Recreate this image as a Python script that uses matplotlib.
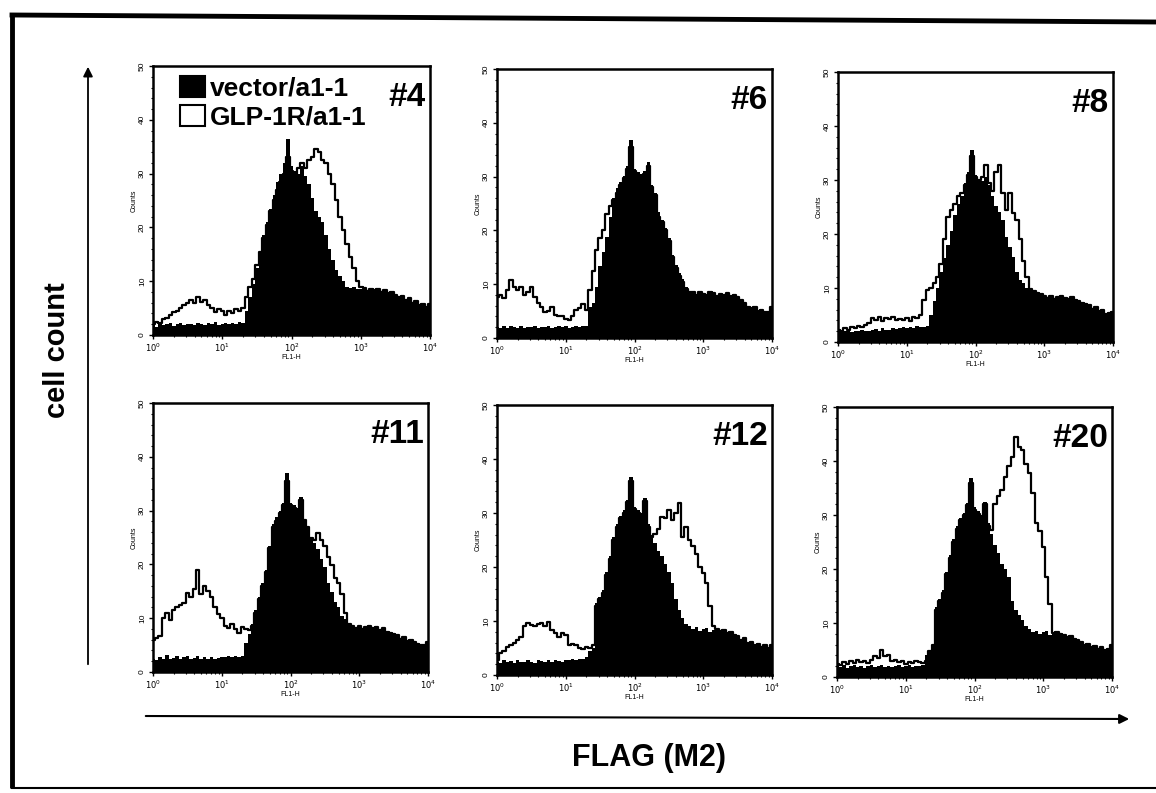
import numpy as np
import matplotlib.pyplot as plt
from matplotlib.patches import Patch
from matplotlib.ticker import MultipleLocator, LogLocator, NullFormatter

plt.rcParams['font.family'] = ['Liberation Sans', 'DejaVu Sans']

W, H = 1156, 793

# FL1-H channels, one every 0.05 decade from 10^0 to 10^4
log_fl = np.arange(81) * 0.05
fl1 = 10 ** log_fl

panel_names = ['#4', '#6', '#8', '#11', '#12', '#20']
legend_labels = ['vector/a1-1', 'GLP-1R/a1-1']
y_ticks = [0, 10, 20, 30, 40, 50]
x_ticks = [1, 10, 100, 1000, 10000]
x_tick_labels = [r'$10^{0}$', r'$10^{1}$', r'$10^{2}$', r'$10^{3}$', r'$10^{4}$']

# counts, vector/a1-1 (filled) and GLP-1R/a1-1 (open)
vec_4 = [2.0, 1.5, 2.2, 1.8, 2.0, 2.3, 1.7, 2.0, 2.2, 1.8,
         2.0, 2.1, 1.9, 2.3, 2.0, 1.8, 2.2, 2.0, 2.4, 1.9,
         2.1, 2.3, 2.0, 2.2, 2.0, 2.5, 2.2, 4.5, 7.0, 9.5,
         12.5, 15.5, 18.5, 21.0, 23.5, 26.0, 28.5, 30.0, 32.0, 36.5,
         31.5, 30.5, 30.0, 31.5, 29.5, 28.0, 25.5, 23.0, 22.0, 21.0,
         18.5, 16.0, 14.0, 12.0, 11.0, 10.0, 9.0, 8.8, 9.0, 8.5,
         8.5, 8.7, 8.2, 8.5, 8.3, 8.6, 8.0, 8.4, 7.8, 8.0,
         7.5, 7.0, 7.2, 6.5, 6.8, 6.0, 6.3, 5.5, 5.8, 5.2, 5.8]
glp_4 = [2.0, 2.5, 2.2, 3.0, 3.2, 3.8, 4.2, 4.5, 5.0, 5.5,
         6.0, 6.5, 6.0, 7.0, 6.2, 6.5, 5.5, 5.0, 4.2, 4.8,
         4.5, 3.8, 4.5, 4.0, 4.8, 4.5, 5.0, 7.0, 9.0, 10.5,
         13.0, 15.5, 18.0, 20.5, 23.0, 25.0, 27.0, 28.5, 30.0, 33.0,
         30.5, 30.0, 31.0, 32.0, 31.0, 32.5, 33.0, 34.5, 34.0, 32.5,
         32.0, 30.0, 28.0, 25.0, 22.0, 19.5, 17.0, 14.5, 12.5, 10.0,
         9.0, 8.7, 8.2, 8.5, 8.3, 8.6, 8.0, 8.4, 7.8, 8.0,
         7.5, 7.0, 7.2, 6.5, 6.8, 6.0, 6.3, 5.5, 5.8, 5.2, 5.8]

vec_6 = [2.0, 1.8, 2.3, 1.9, 2.2, 2.0, 1.8, 2.2, 1.9, 2.1,
         2.0, 2.3, 1.8, 2.1, 2.0, 2.2, 1.9, 2.0, 2.3, 2.0,
         2.2, 1.9, 2.1, 2.3, 2.0, 2.2, 2.3, 5.8, 6.5, 9.5,
         13.3, 16.0, 18.8, 22.5, 26.0, 27.8, 29.0, 30.2, 32.0, 36.8,
         31.5, 30.8, 30.5, 31.0, 32.8, 28.5, 27.0, 23.5, 22.0, 20.5,
         18.5, 15.5, 13.5, 12.0, 11.0, 9.5, 8.8, 8.5, 8.0, 8.6,
         8.2, 8.0, 8.5, 8.3, 7.8, 8.2, 8.0, 8.4, 7.8, 8.0,
         7.6, 7.0, 6.5, 5.8, 5.5, 5.8, 5.0, 5.2, 4.8, 4.8, 5.8]
glp_6 = [7.7, 8.0, 7.5, 9.0, 10.8, 9.5, 9.0, 9.5, 8.0, 8.5,
         9.5, 7.7, 6.5, 5.8, 4.8, 5.0, 5.8, 4.2, 4.0, 4.0,
         3.5, 3.3, 4.0, 5.2, 5.5, 6.4, 5.2, 8.9, 12.5, 16.4,
         18.5, 20.0, 23.0, 24.5, 25.6, 27.0, 28.5, 29.8, 31.5, 35.5,
         31.0, 30.3, 30.0, 30.5, 32.0, 28.0, 26.5, 22.5, 21.5, 20.0,
         18.0, 15.0, 13.0, 11.5, 10.5, 9.2, 8.6, 8.5, 8.0, 8.6,
         8.2, 8.0, 8.5, 8.3, 7.8, 8.2, 8.0, 8.4, 7.8, 8.0,
         7.6, 7.0, 6.5, 5.8, 5.5, 5.8, 5.0, 5.2, 4.8, 4.8, 5.8]

vec_8 = [2.0, 1.8, 2.0, 2.2, 1.9, 2.1, 2.0, 2.3, 2.1, 2.0,
         2.2, 2.4, 2.1, 2.5, 2.3, 2.2, 2.6, 2.4, 2.5, 2.8,
         2.5, 2.8, 2.6, 3.0, 2.7, 2.8, 3.0, 5.0, 7.5, 10.0,
         13.0, 15.5, 18.0, 20.5, 23.5, 25.5, 27.0, 29.5, 31.5, 35.6,
         31.0, 30.2, 29.8, 30.6, 29.0, 27.0, 25.2, 24.0, 22.5, 19.5,
         17.5, 15.8, 13.0, 11.5, 10.9, 10.0, 9.6, 9.5, 9.0, 8.8,
         8.5, 8.2, 8.6, 8.0, 8.3, 8.5, 8.2, 8.0, 8.4, 7.8,
         7.5, 7.2, 7.0, 6.8, 6.2, 6.5, 5.8, 6.0, 5.2, 5.3, 5.5]
glp_8 = [2.2, 2.0, 2.5, 2.3, 2.8, 2.5, 3.0, 2.8, 3.2, 3.5,
         4.5, 4.0, 4.7, 3.8, 4.5, 4.2, 4.7, 4.0, 4.2, 4.0,
         4.5, 3.8, 4.7, 4.5, 5.0, 7.8, 9.6, 10.0, 11.0, 12.0,
         14.5, 19.0, 23.2, 24.5, 25.5, 27.0, 27.5, 29.0, 31.0, 34.5,
         30.5, 30.0, 30.5, 32.8, 29.5, 28.0, 31.5, 32.8, 27.5, 24.4,
         27.5, 23.8, 22.5, 19.0, 15.0, 12.0, 9.8, 9.5, 9.0, 8.8,
         8.5, 8.2, 8.6, 8.0, 8.3, 8.5, 8.2, 8.0, 8.4, 7.8,
         7.5, 7.2, 7.0, 6.8, 6.2, 6.5, 5.8, 6.0, 5.2, 5.3, 5.5]

vec_11 = [2.5, 2.3, 2.8, 2.4, 3.2, 2.5, 2.6, 3.0, 2.4, 2.7,
          2.9, 2.4, 2.6, 3.0, 2.5, 2.7, 2.4, 2.8, 2.5, 2.6,
          2.8, 2.7, 2.9, 2.8, 3.0, 2.8, 3.0, 5.3, 7.0, 9.0,
          11.5, 14.0, 16.5, 19.0, 23.5, 27.6, 28.8, 30.0, 31.5, 36.9,
          31.4, 31.0, 30.5, 32.6, 28.5, 27.2, 25.0, 24.0, 22.8, 21.0,
          19.5, 16.5, 14.8, 13.0, 12.0, 10.5, 9.8, 9.0, 8.6, 8.2,
          8.5, 8.0, 8.4, 8.6, 8.1, 8.3, 7.8, 8.2, 7.5, 7.2,
          7.0, 6.8, 6.2, 6.5, 5.8, 6.0, 5.5, 5.2, 5.0, 5.0, 5.5]
glp_11 = [6.0, 6.3, 6.6, 10.0, 10.9, 9.7, 11.5, 12.1, 12.5, 12.8,
          14.6, 14.0, 15.5, 19.0, 14.5, 15.9, 15.0, 14.0, 12.1, 10.8,
          10.0, 8.6, 8.2, 9.0, 8.0, 7.2, 8.4, 8.0, 7.8, 8.5,
          11.0, 13.5, 16.0, 18.5, 23.0, 27.0, 28.0, 29.5, 31.0, 35.5,
          31.0, 30.5, 30.0, 32.0, 28.2, 27.0, 25.0, 24.5, 25.8, 24.5,
          23.5, 21.4, 19.8, 17.5, 16.5, 14.5, 11.0, 9.0, 8.6, 8.2,
          8.5, 8.0, 8.4, 8.6, 8.1, 8.3, 7.8, 8.2, 7.5, 7.2,
          7.0, 6.8, 6.2, 6.5, 5.8, 6.0, 5.5, 5.2, 5.0, 5.0, 5.5]

vec_12 = [2.5, 2.2, 2.8, 2.4, 2.6, 2.3, 2.8, 2.5, 2.4, 2.7,
          2.5, 2.3, 2.8, 2.6, 2.4, 2.7, 2.5, 2.8, 2.6, 2.5,
          2.8, 2.7, 3.0, 2.8, 2.9, 3.0, 3.4, 4.5, 5.0, 13.3,
          14.5, 15.7, 19.0, 22.0, 25.5, 28.0, 29.5, 30.6, 32.5, 36.7,
          31.2, 30.5, 30.0, 32.7, 28.0, 26.0, 24.5, 23.0, 22.0, 20.5,
          19.0, 17.0, 14.0, 12.0, 10.5, 9.5, 9.0, 8.5, 8.8, 8.2,
          8.5, 8.7, 8.0, 8.4, 8.6, 8.2, 8.4, 7.8, 8.0, 7.5,
          7.2, 6.5, 6.8, 6.0, 6.2, 5.5, 5.8, 5.2, 5.5, 5.0, 5.5]
glp_12 = [2.8, 4.0, 4.5, 5.2, 5.5, 5.9, 6.5, 7.1, 9.0, 9.6,
          9.2, 9.0, 9.4, 9.6, 9.0, 9.9, 8.3, 7.8, 7.1, 7.7,
          7.5, 5.6, 5.8, 5.6, 5.0, 4.9, 5.2, 5.0, 5.5, 12.8,
          14.0, 15.2, 18.5, 21.5, 25.0, 27.5, 29.0, 30.0, 32.0, 36.0,
          30.8, 30.0, 29.5, 32.2, 27.5, 25.5, 26.2, 27.0, 29.3, 29.0,
          30.6, 28.7, 30.0, 31.8, 25.6, 27.5, 25.0, 23.8, 22.5, 20.0,
          18.8, 17.0, 12.7, 9.0, 8.6, 8.2, 8.4, 7.8, 8.0, 7.5,
          7.2, 6.5, 6.8, 6.0, 6.2, 5.5, 5.8, 5.2, 5.5, 5.0, 5.5]

vec_20 = [2.0, 1.8, 2.2, 1.6, 2.0, 2.3, 1.8, 2.1, 1.7, 2.0,
          2.2, 1.8, 2.0, 2.3, 1.9, 2.1, 1.8, 2.0, 2.2, 1.9,
          2.0, 2.3, 1.9, 2.1, 2.0, 2.2, 4.0, 5.0, 6.2, 13.0,
          14.5, 16.1, 19.5, 22.5, 25.5, 28.0, 29.5, 30.3, 32.2, 36.8,
          31.5, 30.8, 30.0, 32.5, 28.5, 26.5, 24.5, 23.0, 21.0, 20.0,
          18.5, 14.0, 12.5, 11.5, 10.5, 9.5, 8.8, 8.4, 8.6, 8.0,
          8.3, 8.5, 7.8, 8.2, 8.4, 8.0, 7.8, 7.5, 7.6, 7.0,
          6.8, 6.5, 6.0, 6.2, 5.5, 5.8, 5.2, 5.5, 5.0, 5.2, 6.0]
glp_20 = [2.5, 2.3, 2.8, 2.5, 3.0, 2.6, 3.2, 2.8, 3.0, 2.6,
          3.2, 3.8, 3.5, 5.0, 3.8, 4.0, 3.0, 3.2, 2.8, 3.0,
          2.5, 2.8, 2.6, 3.0, 2.8, 2.6, 3.0, 4.8, 6.0, 12.5,
          14.0, 15.5, 19.0, 22.0, 25.0, 27.5, 29.0, 30.0, 31.8, 36.0,
          31.0, 30.2, 29.5, 32.0, 28.0, 27.2, 32.0, 33.5, 34.6, 37.0,
          39.0, 40.8, 44.5, 42.6, 42.0, 39.5, 37.7, 34.0, 28.5, 27.0,
          24.0, 18.6, 13.6, 8.2, 8.4, 8.0, 7.8, 7.5, 7.6, 7.0,
          6.8, 6.5, 6.0, 6.2, 5.5, 5.8, 5.2, 5.5, 5.0, 5.2, 6.0]

vector_counts = [vec_4, vec_6, vec_8, vec_11, vec_12, vec_20]
glp_counts = [glp_4, glp_6, glp_8, glp_11, glp_12, glp_20]

# panel boxes in pixels: left, top, width, height
boxes = [(153, 66, 277, 269), (497, 69, 275, 269), (838, 72, 275, 270),
         (153, 403, 275, 269), (497, 405, 275, 270), (837, 407, 275, 270)]


def px_axes(x, y, w, h):
    return [x / W, 1 - (y + h) / H, w / W, h / H]


fig = plt.figure(figsize=(W / 100, H / 100), dpi=100)

# overlay in pixel coordinates for frame, arrows and big labels
ov = fig.add_axes([0, 0, 1, 1])
ov.set_xlim(0, W)
ov.set_ylim(H, 0)
ov.axis('off')
ov.plot([12, 12], [15, 788], color='black', lw=3.5, solid_capstyle='butt')
ov.plot([12, W], [15, 22], color='black', lw=3.5)
ov.plot([12, W], [788, 788], color='black', lw=1.5)
ov.annotate('', xy=(88, 64), xytext=(88, 667),
            arrowprops=dict(arrowstyle='-|>', lw=1.3, color='black', mutation_scale=14))
ov.annotate('', xy=(1132, 719), xytext=(143, 716),
            arrowprops=dict(arrowstyle='-|>', lw=1.5, color='black', mutation_scale=14))
ov.text(57, 350, 'cell count', rotation=90, ha='center', va='center',
        fontsize=21, fontweight='bold')
ov.text(649, 758, 'FLAG (M2)', ha='center', va='center',
        fontsize=22, fontweight='bold')

for k, (name, vec, glp, box) in enumerate(zip(panel_names, vector_counts, glp_counts, boxes)):
    ax = fig.add_axes(px_axes(*box))
    ax.fill_between(fl1, vec, step='mid', color='black', lw=0)
    ax.plot(fl1, glp, drawstyle='steps-mid', color='black', lw=1.6)
    ax.set_xscale('log')
    ax.set_xlim(1, 1e4)
    ax.set_ylim(0, 50)
    ax.set_xticks(x_ticks)
    ax.set_xticklabels(x_tick_labels)
    ax.xaxis.set_minor_locator(LogLocator(base=10, subs=np.arange(2, 10)))
    ax.xaxis.set_minor_formatter(NullFormatter())
    ax.set_yticks(y_ticks)
    ax.set_yticklabels([str(v) for v in y_ticks], rotation=90, va='center')
    ax.yaxis.set_minor_locator(MultipleLocator(2))
    ax.tick_params(which='major', direction='out', length=3, width=1, labelsize=6, pad=2)
    ax.tick_params(which='minor', direction='out', length=1.5, width=0.8)
    for s in ax.spines.values():
        s.set_linewidth(1.8)
    ax.set_ylabel('Counts', fontsize=5, labelpad=1)
    ax.set_xlabel('FL1-H', fontsize=5, labelpad=0)
    ax.text(0.985, 0.94, name, transform=ax.transAxes, ha='right', va='top',
            fontsize=24, fontweight='bold')
    if k == 0:
        handles = [Patch(facecolor='black', edgecolor='black', lw=1.5),
                   Patch(facecolor='white', edgecolor='black', lw=1.5)]
        ax.legend(handles, legend_labels, loc='upper left', bbox_to_anchor=(0.097, 0.963),
                  frameon=False, borderpad=0, borderaxespad=0, handlelength=0.95,
                  handleheight=0.85, handletextpad=0.2, labelspacing=0.15,
                  prop={'weight': 'bold', 'size': 19})

fig.savefig('out.png', dpi=100)
